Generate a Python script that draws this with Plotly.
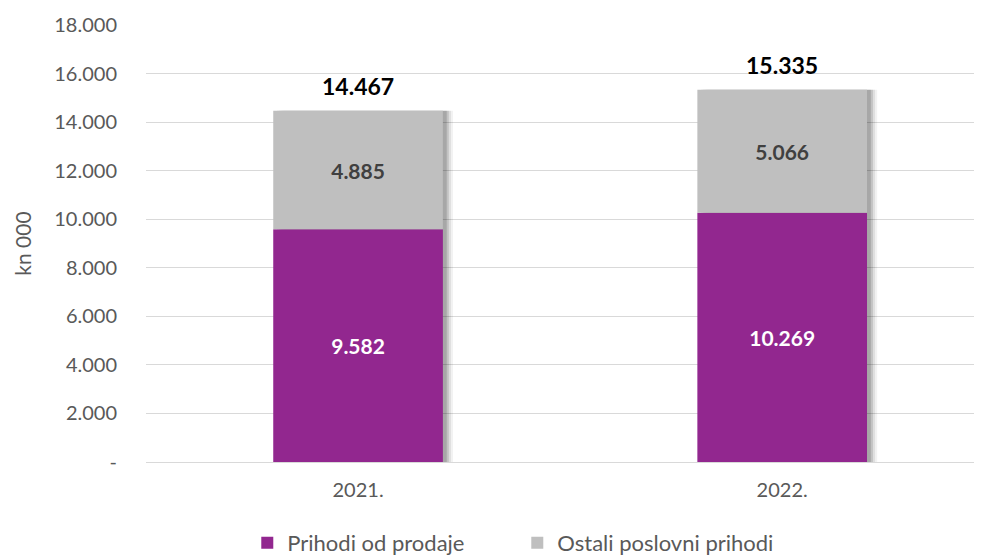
import plotly.graph_objects as go

years = ["2021.", "2022."]
prihodi_od_prodaje = [9582, 10269]
ostali_poslovni_prihodi = [4885, 5066]
totals = [14467, 15335]
total_labels = ["14.467", "15.335"]
y_tick_vals = [0, 2000, 4000, 6000, 8000, 10000, 12000, 14000, 16000, 18000]
y_tick_labels = ["-", "2.000", "4.000", "6.000", "8.000", "10.000", "12.000", "14.000", "16.000", "18.000"]

PURPLE = "#92278F"
GREY = "#BFBFBF"
FONT = "Lato"
BW = 0.4

fig = go.Figure()

# soft shadow layers (behind the bars)
for dx, alpha in [(0.024, 0.05), (0.019, 0.08), (0.014, 0.12), (0.009, 0.14)]:
    fig.add_trace(go.Bar(
        x=years, y=totals, width=BW, offset=-BW / 2 + dx,
        marker=dict(color=f"rgba(0,0,0,{alpha})", line=dict(width=0)),
        showlegend=False, hoverinfo="skip",
    ))

fig.add_trace(go.Bar(
    x=years, y=prihodi_od_prodaje, name="Prihodi od prodaje",
    width=BW, offset=-BW / 2,
    marker=dict(color=PURPLE, line=dict(width=0)),
    texttemplate="<b>%{y:,.0f}</b>", textposition="inside", insidetextanchor="middle",
    textfont=dict(family=FONT, size=21, color="white"),
))
fig.add_trace(go.Bar(
    x=years, y=ostali_poslovni_prihodi, base=prihodi_od_prodaje,
    name="Ostali poslovni prihodi",
    width=BW, offset=-BW / 2,
    marker=dict(color=GREY, line=dict(width=0)),
    texttemplate="<b>%{y:,.0f}</b>", textposition="inside", insidetextanchor="middle",
    textfont=dict(family=FONT, size=21, color="#404040"),
))

# category index positions for the total labels
annotations = [
    dict(x=i, y=yv, xref="x", yref="y", text=f"<b>{lab}</b>", showarrow=False,
         yanchor="middle", yshift=25,
         font=dict(family=FONT, size=23, color="black"))
    for i, (yv, lab) in enumerate(zip(totals, total_labels))
]

fig.update_layout(
    width=982, height=556,
    barmode="overlay",
    separators=",.",
    paper_bgcolor="white", plot_bgcolor="white",
    margin=dict(l=138, r=0, t=17, b=102, autoexpand=False),
    font=dict(family=FONT, size=20, color="#595959"),
    showlegend=True,
    annotations=annotations,
    legend=dict(orientation="h", x=0.12, xanchor="left",
                y=-0.185, yanchor="middle",
                font=dict(family=FONT, size=22, color="#595959"),
                traceorder="normal", itemwidth=30, entrywidth=225),
    xaxis=dict(type="category", range=[-0.5, 1.49], showgrid=False,
               showline=False, ticks="", ticklabelstandoff=14,
               tickfont=dict(size=20, color="#595959")),
    yaxis=dict(range=[0, 18000], tickvals=y_tick_vals, ticktext=y_tick_labels,
               showgrid=True, gridcolor="#D9D9D9", gridwidth=1,
               zeroline=True, zerolinecolor="#D9D9D9", zerolinewidth=1,
               ticks="", ticklabelstandoff=28,
               tickfont=dict(size=20, color="#595959"),
               title=dict(text="kn 000", font=dict(size=21, color="#595959"), standoff=16)),
)

fig.write_html("out.html")
